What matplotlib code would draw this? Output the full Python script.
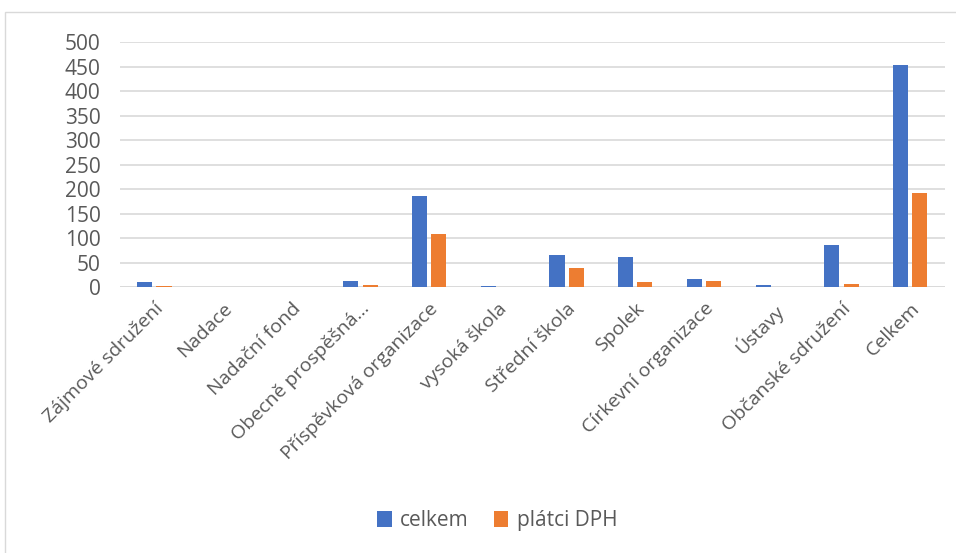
import numpy as np
import matplotlib.pyplot as plt
from matplotlib.patches import Rectangle

plt.rcParams['font.family'] = ['Liberation Sans Narrow', 'Open Sans', 'DejaVu Sans']

categories = ['Zájmové sdružení', 'Nadace', 'Nadační fond', 'Obecně prospěšná…',
              'Příspěvková organizace', 'vysoká škola', 'Střední škola', 'Spolek',
              'Církevní organizace', 'Ústavy', 'Občanské sdružení', 'Celkem']
celkem = [10, 0, 0, 12, 186, 2, 66, 62, 17, 4, 85, 454]
platci = [2, 0, 1, 4, 109, 0, 38, 10, 12, 1, 7, 191]

fig = plt.figure(figsize=(9.56, 5.53), dpi=100)
ax = fig.add_axes([0.1255, 0.481, 0.8625, 0.443])

x = np.arange(len(categories))
w = 0.22
ax.bar(x - 0.14, celkem, w, color='#4472C4', label='celkem', zorder=3)
ax.bar(x + 0.14, platci, w, color='#ED7D31', label='plátci DPH', zorder=3)

ax.set_xlim(-0.5, len(categories) - 0.5)
ax.set_ylim(0, 500)
ax.set_yticks(range(0, 501, 50))
ax.yaxis.grid(True, color='#d9d9d9', lw=1.2, zorder=0)
for s in ax.spines.values():
    s.set_visible(False)
ax.axhline(0, color='#d9d9d9', lw=1.2, zorder=2)
ax.tick_params(axis='both', length=0, colors='#595959', labelsize=14)
ax.tick_params(axis='y', pad=14, labelsize=15)
ax.set_xticks(x)
ax.set_xticklabels(categories, rotation=45, ha='right', rotation_mode='anchor')
ax.tick_params(axis='x', pad=9)

fig.legend(loc='center', bbox_to_anchor=(0.52, 0.058), ncol=2, frameon=False,
           fontsize=15, handlelength=0.7, handleheight=0.8, columnspacing=1.2,
           handletextpad=0.4, labelcolor='#595959')

fig.patches.append(Rectangle((5 / 956, -0.1), 1.2, 1 - 12 / 553 + 0.1,
                             transform=fig.transFigure, fill=False,
                             edgecolor='#d9d9d9', lw=1))

fig.savefig('out.png', dpi=100)
